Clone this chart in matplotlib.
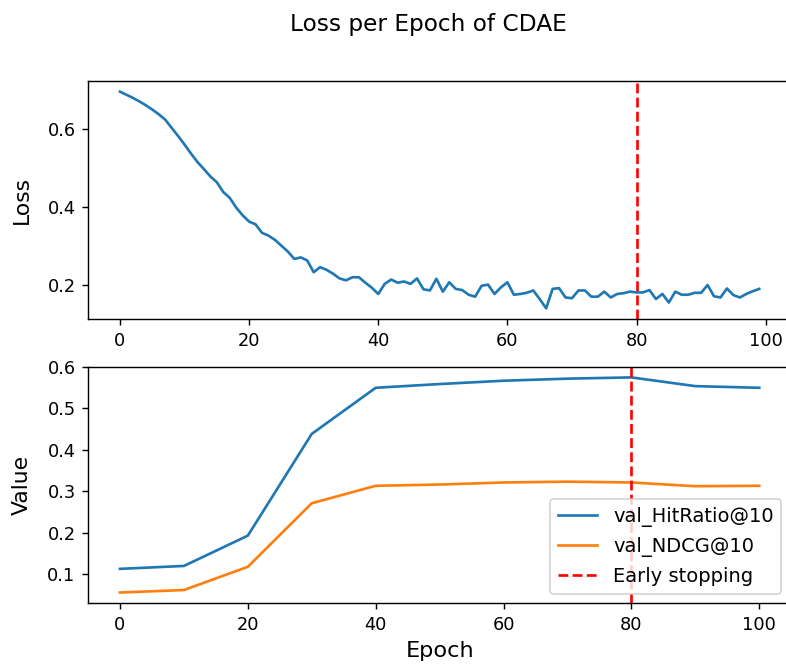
import matplotlib
matplotlib.use("Agg")
import matplotlib.pyplot as plt

# loss per epoch
loss = [0.696, 0.688, 0.680, 0.671, 0.661, 0.650, 0.638, 0.624, 0.603, 0.582,
        0.560, 0.537, 0.515, 0.497, 0.478, 0.463, 0.438, 0.423, 0.398, 0.378,
        0.362, 0.355, 0.333, 0.326, 0.315, 0.300, 0.285, 0.266, 0.270, 0.262,
        0.232, 0.245, 0.238, 0.228, 0.216, 0.211, 0.219, 0.219, 0.205, 0.192,
        0.176, 0.202, 0.213, 0.205, 0.208, 0.202, 0.216, 0.188, 0.185, 0.215,
        0.182, 0.206, 0.189, 0.186, 0.174, 0.169, 0.197, 0.200, 0.176, 0.193,
        0.206, 0.174, 0.176, 0.179, 0.185, 0.163, 0.139, 0.189, 0.191, 0.167,
        0.165, 0.185, 0.185, 0.169, 0.169, 0.182, 0.167, 0.176, 0.178, 0.182,
        0.180, 0.180, 0.186, 0.163, 0.176, 0.154, 0.182, 0.174, 0.174, 0.179,
        0.179, 0.199, 0.170, 0.167, 0.190, 0.173, 0.167, 0.176, 0.183, 0.189]
loss_epochs = list(range(len(loss)))

# validation metrics, evaluated every 10 epochs
val_epochs = [0, 10, 20, 30, 40, 50, 60, 70, 80, 90, 100]
val_hr = [0.113, 0.120, 0.193, 0.438, 0.549, 0.558, 0.566, 0.571, 0.574, 0.553, 0.549]
val_ndcg = [0.056, 0.062, 0.118, 0.271, 0.313, 0.316, 0.321, 0.323, 0.321, 0.312, 0.313]

early_stop = 80

dpi = 128
fig = plt.figure(figsize=(786.2 / dpi, 666.2 / dpi), dpi=dpi)

W, H = 786.0, 666.0
left = 88 / W
width = 703 / W
ax1 = fig.add_axes([left, (H - 319.3) / H, width, (319.3 - 81) / H])
ax2 = fig.add_axes([left, (H - 603.3) / H, width, (603.3 - 366.7) / H])

ax1.plot(loss_epochs, loss, color='#1f77b4')
ax1.axvline(early_stop, color='red', linestyle='--')
ax1.set_ylabel("Loss", fontsize=12.3)
ax1.set_yticks([0.2, 0.4, 0.6])

ax2.plot(val_epochs, val_hr, label="val_HitRatio@10")
ax2.plot(val_epochs, val_ndcg, label="val_NDCG@10")
ax2.axvline(early_stop, color='red', linestyle='--', label="Early stopping")
ax2.set_xlabel("Epoch", fontsize=12.6)
ax2.set_ylabel("Value", fontsize=12.3)
ax2.set_yticks([0.1, 0.2, 0.3, 0.4, 0.5, 0.6])
ax2.legend(loc='lower right', fontsize=11)

for ax in (ax1, ax2):
    ax.yaxis.set_label_coords(-56 / 703, 0.5)

fig.suptitle("Loss per Epoch of CDAE", x=428 / W, y=(H - 30.7) / H,
             va='baseline', fontsize=13.1)

fig.savefig("out.png", dpi=dpi)
